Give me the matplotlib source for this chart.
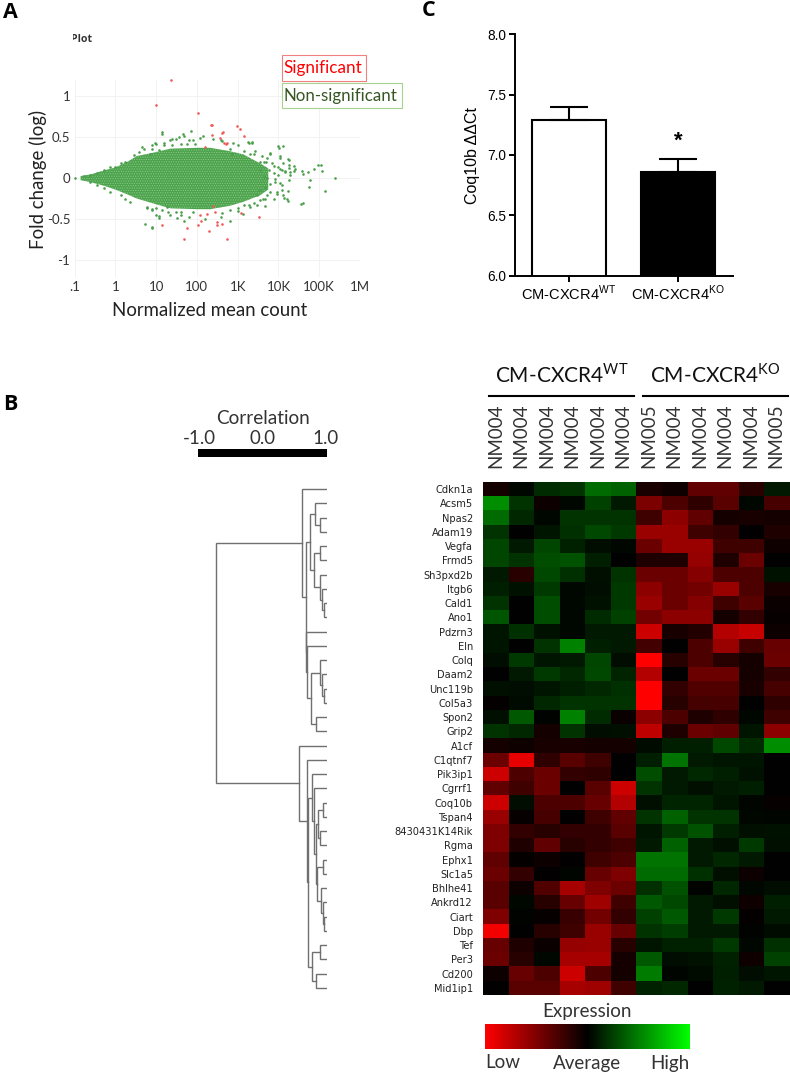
import matplotlib
matplotlib.use("Agg")
import matplotlib.pyplot as plt
import numpy as np
from matplotlib.colors import LinearSegmentedColormap
from matplotlib.patches import Rectangle

W, H = 790, 1074

plt.rcParams['font.family'] = ['Lato', 'DejaVu Sans']
plt.rcParams['mathtext.fontset'] = 'custom'
plt.rcParams['mathtext.rm'] = 'Liberation Sans'
plt.rcParams['mathtext.sf'] = 'Lato'
plt.rcParams['hatch.linewidth'] = 0.5

# panel A: log10 mean count and log fold change
cloud_x = [-0.85, -0.6, -0.3, 0.0, 0.3, 0.53, 0.93, 1.35, 2.0, 2.33, 2.8, 3.14, 3.55, 3.75]
cloud_up = [0.025, 0.045, 0.09, 0.13, 0.20, 0.27, 0.31, 0.36, 0.37, 0.37, 0.33, 0.29, 0.18, 0.12]
cloud_lo = [-0.025, -0.05, -0.09, -0.14, -0.20, -0.25, -0.31, -0.37, -0.38, -0.38, -0.34, -0.29, -0.21, -0.14]

green_x = [4.0, 4.10, 3.79, 4.04, 4.24, 4.12, 4.37, 4.41, 4.28, 4.57, 4.61, 4.73, 4.86, 4.98, 5.04, 5.06,
           4.78, 4.75, 5.13, 5.38, 4.6, 4.55, 4.22, 4.12, 3.96, 4.08, 3.92, 4.04, 3.88, 4.16, 3.71, 3.63,
           3.47, 3.3, 3.7, 3.6, 3.4, 3.26, 3.34, 1.14, 1.86, 1.65, 1.38, 0.97, 0.89, 0.65, 2.08, 2.16, 2.4,
           1.5, 2.89, 2.6, 1.2, 1.9, 1.75, 0.73, 0.89, 1.01, 1.08, 0.77, 1.5, 1.6, 1.3, 2.81, 2.6, 2.2,
           3.14, 3.0, 0.9, 1.9, 1.0, -0.98,
           3.43, 3.29, 3.35, 4.02, 3.80, 4.03, 4.25, 3.72, 3.64, 3.84, 4.0, 4.09, 4.25, 4.27, 4.39, 4.29, 4.17, 4.0,
           3.88, 3.76, 3.72, 3.92, 4.05, 4.25, 4.23, 4.09, 3.96, 3.80, 3.68, 3.56, 3.68, 3.88, 4.14, 4.23, 3.68, 3.39,
           3.27, 3.15, 3.02, 2.82, 2.62, 3.56, 3.47, 3.80, 3.64, 3.56, 3.56, 3.31, 3.15, 3.02, 2.82, 2.62, 2.86,
           1.15, 1.55, 1.68, 1.35, 1.80, 1.0, 0.9, 1.19, 1.39, 1.6, 1.96, 0.70, 0.57, 0.45, 0.86, 1.07, 0.25, 0.13,
           0.0, -0.14, -0.28, -0.61, -0.77, -0.45, -0.61, -0.45, -0.28, -0.12, 0.13, 0.25, 0.37, 0.78, 0.9, 1.07,
           1.15, 1.35, 1.51, 1.68, 0.9, 1.8, 1.27, 1.6]
green_y = [0.387, 0.395, 0.31, 0.27, 0.23, 0.19, 0.15, 0.11, 0.07, 0.09, 0.05, 0.08, 0.11, 0.16, 0.16, 0.085,
           -0.02, -0.11, -0.16, 0.0, -0.31, -0.32, -0.26, -0.21, -0.17, -0.09, -0.01, 0.11, 0.15, 0.09, -0.21, -0.25,
           -0.33, -0.35, 0.2, 0.27, 0.3, 0.44, 0.44, 0.565, 0.573, 0.536, 0.476, 0.435, 0.355, 0.375, 0.496, 0.516, 0.476,
           0.476, 0.435, 0.47, 0.43, 0.46, 0.42, -0.556, -0.593, -0.45, -0.49, -0.35, -0.41, -0.45, -0.42, -0.53, -0.47, -0.5,
           -0.44, -0.4, -0.38, -0.42, -0.36, 0.0,
           0.33, 0.43, 0.43, 0.37, 0.30, 0.25, 0.22, 0.25, 0.20, 0.18, 0.14, 0.10, 0.16, 0.12, 0.09, 0.04, 0.08, 0.04,
           0.06, 0.10, 0.0, -0.045, -0.065, -0.025, -0.155, -0.14, -0.195, -0.17, -0.11, -0.15, -0.25, -0.26, -0.24, -0.28, -0.34, -0.31,
           -0.33, -0.33, -0.37, -0.39, -0.43, -0.27, -0.21, -0.07, 0.016, 0.10, 0.20, 0.30, 0.33, 0.40, 0.36, 0.455, 0.30,
           0.545, 0.50, 0.52, 0.46, 0.46, 0.42, 0.40, 0.40, 0.40, 0.42, 0.42, 0.36, 0.32, 0.28, 0.30, 0.34, 0.20, 0.18,
           0.14, 0.14, 0.10, 0.04, 0.025, 0.06, -0.045, -0.085, -0.125, -0.17, -0.21, -0.25, -0.29, -0.37, -0.39, -0.46,
           -0.39, -0.45, -0.49, -0.53, -0.61, -0.47, -0.35, -0.41]

red_x = [1.37, 1.01, 2.04, 2.35, 2.38, 2.99, 3.06, 2.63, 2.62, 2.36, 3.16, 2.57, 2.67, 2.71, 2.75, 2.2,
         2.40, 2.08, 2.24, 2.44, 2.09, 2.50, 2.50, 2.62, 3.09, 3.52, 1.77, 2.04, 1.14, 2.29, 1.68, 2.73]
red_y = [1.20, 0.89, 0.80, 0.645, 0.65, 0.637, 0.605, 0.565, 0.556, 0.53, 0.516, 0.496, 0.427, 0.42, 0.427, 0.375,
         -0.343, -0.45, -0.444, -0.41, -0.524, -0.54, -0.573, -0.556, -0.427, -0.47, -0.605, -0.573, -0.573, -0.653, -0.742, -0.742]

ma_xticks = [-1, 0, 1, 2, 3, 4, 5, 6]
ma_xlabels = ['.1', '1', '10', '100', '1K', '10K', '100K', '1M']
ma_yticks = [-1, -0.5, 0, 0.5, 1]
ma_ylabels = ['-1', '-0.5', '0', '0.5', '1']

# panel C
bar_names = [r'CM-CXCR4$^{\mathrm{WT}}$', r'CM-CXCR4$^{\mathrm{KO}}$']
bar_values = [7.29, 6.86]
bar_errors = [0.105, 0.11]

# panel B heatmap, green = high, red = low
genes = ['Cdkn1a', 'Acsm5', 'Npas2', 'Adam19', 'Vegfa', 'Frmd5', 'Sh3pxd2b', 'Itgb6', 'Cald1', 'Ano1', 'Pdzrn3', 'Eln',
         'Colq', 'Daam2', 'Unc119b', 'Col5a3', 'Spon2', 'Grip2', 'A1cf', 'C1qtnf7', 'Pik3ip1', 'Cgrrf1', 'Coq10b', 'Tspan4',
         '8430431K14Rik', 'Rgma', 'Ephx1', 'Slc1a5', 'Bhlhe41', 'Ankrd12', 'Ciart', 'Dbp', 'Tef', 'Per3', 'Cd200', 'Mid1ip1']
samples = ['NM004', 'NM004', 'NM004', 'NM004', 'NM004', 'NM004', 'NM005', 'NM004', 'NM004', 'NM004', 'NM004', 'NM005']
expression = [
    [-.08, .03, .17, .2, .42, .38, -.1, -.06, -.38, -.38, -.15, .1],
    [.55, .2, -.05, .03, .25, .1, -.48, -.3, -.18, -.35, .03, -.28],
    [.42, .15, .03, .2, .2, .2, -.25, -.55, -.38, -.08, -.1, -.08],
    [.2, 0, .08, .18, .28, .22, -.6, -.6, -.25, -.2, -.01, -.12],
    [.27, .1, .27, .13, .05, .03, -.42, -.6, -.6, -.25, -.25, -.06],
    [.27, .2, .3, .32, .12, 0, -.12, -.12, -.58, -.12, -.42, 0],
    [.1, -.16, .28, .18, .06, .2, -.42, -.42, -.52, -.3, -.3, .07],
    [.12, .07, .22, .03, .05, .22, -.55, -.42, -.45, -.6, -.3, -.1],
    [.2, 0, .3, .03, .07, .22, -.6, -.42, -.52, -.25, -.35, -.04],
    [.33, 0, .3, .03, .17, .25, -.45, -.55, -.55, -.08, -.2, -.03],
    [.08, .18, .07, .03, .1, .1, -.8, -.1, -.14, -.7, -.78, -.05],
    [.08, 0, .2, .5, .12, .1, -.26, 0, -.3, -.6, -.25, -.4],
    [.05, .22, .08, .1, .27, .05, -1, -.15, -.3, -.15, -.08, -.42],
    [0, .1, .22, .15, .28, .14, -.7, 0, -.42, -.42, -.08, -.2],
    [.06, .05, .08, .12, .15, .18, -1, -.2, -.32, -.32, -.1, -.28],
    [-.02, .04, .15, .2, .2, .2, -1, -.15, -.27, -.28, 0, -.18],
    [.06, .35, .01, .5, .17, -.04, -.55, -.3, -.12, -.18, .03, -.25],
    [.2, .15, -.08, .2, .05, .06, -.75, -.12, -.42, -.38, .08, -.55],
    [-.08, -.06, -.1, -.1, -.08, -.08, .04, .12, .12, .28, .17, .55],
    [-.42, -.9, -.18, -.35, -.25, 0, .12, .45, .1, .08, .08, 0],
    [-.8, -.3, -.42, -.2, -.18, 0, .3, .1, .16, .12, .07, 0],
    [-.38, -.25, -.42, 0, -.35, -.8, .2, .1, .06, .1, .12, 0],
    [-.8, .05, -.3, -.3, -.4, -.7, .06, .14, .14, .08, .02, -.03],
    [-.6, -.03, -.28, -.01, -.25, -.38, .2, .38, .2, .2, .03, .02],
    [-.5, -.2, -.15, -.2, -.2, -.35, .08, .22, .32, .12, .06, .07],
    [-.5, -.12, -.38, -.15, -.2, -.25, .1, .38, .1, .06, .22, .06],
    [-.38, -.02, -.05, -.01, -.25, -.3, .45, .45, .1, .15, .1, 0],
    [-.42, -.2, -.01, .02, -.4, -.5, .42, .42, .18, .06, -.05, 0],
    [-.35, -.05, -.32, -.65, -.5, -.42, .18, .32, .01, .15, .03, .05],
    [-.35, .03, -.15, -.4, -.62, -.25, .35, .28, .1, .06, -.06, .12],
    [-.5, .01, -.03, -.22, -.45, -.2, .25, .35, .1, .22, -.02, .1],
    [-.95, 0, -.15, -.25, -.6, -.4, .2, .24, .1, .1, .01, .04],
    [-.4, -.12, -.04, -.58, -.6, -.15, .08, .13, .13, .22, .03, .18],
    [-.42, -.15, .03, -.65, -.65, -.08, .35, .05, .07, .13, -.06, .25],
    [-.05, -.4, -.3, -.8, -.3, -.08, .48, .02, .04, .12, .05, .08],
    [-.01, -.35, -.35, -.65, -.62, -.25, .13, .15, 0, .13, .1, 0],
]

# dendrogram as nested merges: (correlation, child, child), leaves are heatmap rows
upper_tree = (.604, 0, (.667,
    (.734, (.813, 1, (.89, 2, 3)),
           (.80, (.89, 4, 5), (.89, 6, (.927, 7, (.958, 8, 9))))),
    (.672, 10, (.682, 11, (.755,
        (.89, 12, (.927, 13, (.958, 14, 15))),
        (.828, 16, 17))))))
lower_tree = (.5625, 18, (.682, 19, (.708,
    (.77, 20, (.80, 21, (.828,
        (.865, (.943, 22, 23), (.89, 24, 25)),
        (.839, (.943, 26, 27), (.906, 28, (.943, 29, (.958, 30, 31))))))),
    (.77, (.89, 32, 33), (.828, 34, 35)))))
full_tree = (-.74, upper_tree, lower_tree)


def ax_px(left, top, right, bottom):
    return fig.add_axes([left / W, 1 - bottom / H, (right - left) / W, (bottom - top) / H])


def txt(x, y, s, **kw):
    kw.setdefault('ha', 'center')
    kw.setdefault('va', 'center')
    return fig.text(x / W, 1 - y / H, s, **kw)


def white_box(left, top, right, bottom):
    # sits over the cut-off title, the text is drawn at zorder 3
    fig.add_artist(Rectangle((left / W, 1 - bottom / H), (right - left) / W, (bottom - top) / H,
                             transform=fig.transFigure, fc='white', ec='none', zorder=5))


def draw_tree(ax, node):
    # returns (x, y) of the node, draws the elbows on the way up
    if not isinstance(node, tuple):
        return 1.0, node
    c, a, b = node
    xa, ya = draw_tree(ax, a)
    xb, yb = draw_tree(ax, b)
    ax.plot([xa, c, c, xb], [ya, ya, yb, yb], color='#707070', lw=1.0, solid_joinstyle='miter')
    return c, (ya + yb) / 2


fig = plt.figure(figsize=(W / 100, H / 100), dpi=100)

txt(3, 12, 'A', ha='left', fontsize=15.5, fontweight='bold', color='black', family=['Open Sans'])
txt(3, 405, 'B', ha='left', fontsize=15.5, fontweight='bold', color='black', family=['Open Sans'])
txt(422, 11, 'C', ha='left', fontsize=15.5, fontweight='bold', color='black', family=['Open Sans'])

# A
ax = ax_px(74.5, 80, 360, 277)
ax.set_xlim(-1, 6)
ax.set_ylim(-1.21, 1.2)
for s in ax.spines.values():
    s.set_visible(False)
ax.grid(True, color='#f2f2f2', lw=0.7)
ax.set_axisbelow(True)
ax.set_xticks(ma_xticks, ma_xlabels, fontsize=9.5, color='#333333')
ax.set_yticks(ma_yticks, ma_ylabels, fontsize=9.5, color='#333333')
ax.tick_params(length=0, pad=3)
ax.fill_between(cloud_x, cloud_lo, cloud_up, facecolor='#4ca34c', edgecolor='#8cca8c', hatch='.......', lw=0)
ax.scatter(green_x, green_y, s=3.5, color='#4a9e4a', lw=0, clip_on=False)
ax.scatter(red_x, red_y, s=3.5, color='#ee5a5a', lw=0, clip_on=False)
ax.patch.set_alpha(0)

txt(38, 179, 'Fold change (log)', rotation=90, fontsize=13.4, color='#222222')
txt(210, 310, 'Normalized mean count', fontsize=13.4, color='#222222')
txt(71, 40, 'Plot', ha='left', fontsize=7.6, fontweight='bold', color='#333333', family=['Open Sans'])
white_box(66, 33, 73, 47)
white_box(66, 39.5, 78, 47)

fig.add_artist(Rectangle((281.5 / W, 1 - 81 / H), 84 / W, 26 / H, transform=fig.transFigure, fc='white', ec='#f08080', lw=0.8))
fig.add_artist(Rectangle((281.5 / W, 1 - 108 / H), 120 / W, 25 / H, transform=fig.transFigure, fc='white', ec='#a9d18e', lw=0.8))
txt(322.5, 68.5, 'Significant', fontsize=12.3, color='#ff0000')
txt(340.5, 96, 'Non-significant', fontsize=12.2, color='#375623')

# C
ax = ax_px(514.7, 34.3, 733, 275.7)
ax.set_xlim(0, 218.3)
ax.set_ylim(6, 8)
x_pos = [54, 163.5]
ax.bar(x_pos, bar_values, width=[74, 74], color=['white', 'black'], edgecolor='black', lw=1.5)
ax.errorbar(x_pos, bar_values, yerr=[[0, 0], bar_errors], fmt='none', ecolor='black', elinewidth=1.5, capsize=13.5, capthick=1.5)
ax.spines[['top', 'right']].set_visible(False)
ax.spines[['left', 'bottom']].set_linewidth(1.4)
ax.set_yticks([6, 6.5, 7, 7.5, 8], ['6.0', '6.5', '7.0', '7.5', '8.0'], family=['Liberation Sans'], fontsize=9.8)
ax.set_xticks(x_pos, bar_names, family=['Liberation Sans'], fontsize=10.5)
ax.tick_params(width=1.4, length=4, pad=2)
ax.set_ylabel('Coq10b \u0394\u0394Ct', family=['Liberation Sans'], fontsize=11.5, labelpad=5)
txt(678, 141, '*', fontsize=16, fontweight='bold', family=['Liberation Sans'])

# B, dendrogram
ax = ax_px(199, 482, 327, 995)
ax.set_xlim(-1, 1)
ax.set_ylim(35.5, -0.5)
ax.axis('off')
draw_tree(ax, full_tree)

txt(263, 418, 'Correlation', fontsize=13.7, color='#333333')
for lab, xp in zip(['-1.0', '0.0', '1.0'], [199, 263, 326]):
    txt(xp, 439, lab, fontsize=13.5, color='#333333')
fig.add_artist(Rectangle((198 / W, 1 - 457 / H), 129 / W, 8 / H, transform=fig.transFigure, fc='black', ec='none'))

# B, heatmap
cmap = LinearSegmentedColormap.from_list('rkg', ['#ff0000', '#000000', '#00ff00'])
ax = ax_px(482.7, 482, 789, 995)
ax.imshow(np.array(expression), cmap=cmap, vmin=-1, vmax=1, aspect='auto', interpolation='nearest')
for s in ax.spines.values():
    s.set_visible(False)
ax.xaxis.tick_top()
ax.set_xticks(range(len(samples)), samples, rotation=90, fontsize=13.5, color='#333333')
ax.set_yticks(range(len(genes)), genes, fontsize=7.1, color='#222222', family=['DejaVu Sans'])
ax.tick_params(length=0, pad=7, axis='y')
ax.tick_params(length=0, pad=10, axis='x')

txt(562, 375, r'CM-CXCR4$^{\mathsf{WT}}$', fontsize=15, color='#111111')
txt(715, 375, r'CM-CXCR4$^{\mathsf{KO}}$', fontsize=15, color='#111111')
fig.add_artist(plt.Line2D([489 / W, 634 / W], [1 - 395.7 / H] * 2, color='black', lw=1.5))
fig.add_artist(plt.Line2D([643 / W, 788 / W], [1 - 395.7 / H] * 2, color='black', lw=1.5))

# expression colour key
ax = ax_px(484.7, 1024, 689, 1049)
ax.imshow(np.linspace(-1, 1, 256).reshape(1, -1), cmap=cmap, aspect='auto')
ax.axis('off')
txt(587, 1012, 'Expression', fontsize=13.5, color='#333333')
txt(485, 1063, 'Low', ha='left', fontsize=13.5, color='#333333')
txt(587, 1063, 'Average', fontsize=13.5, color='#333333')
txt(689, 1063, 'High', ha='right', fontsize=13.5, color='#333333')

fig.savefig('out.png', dpi=100)
